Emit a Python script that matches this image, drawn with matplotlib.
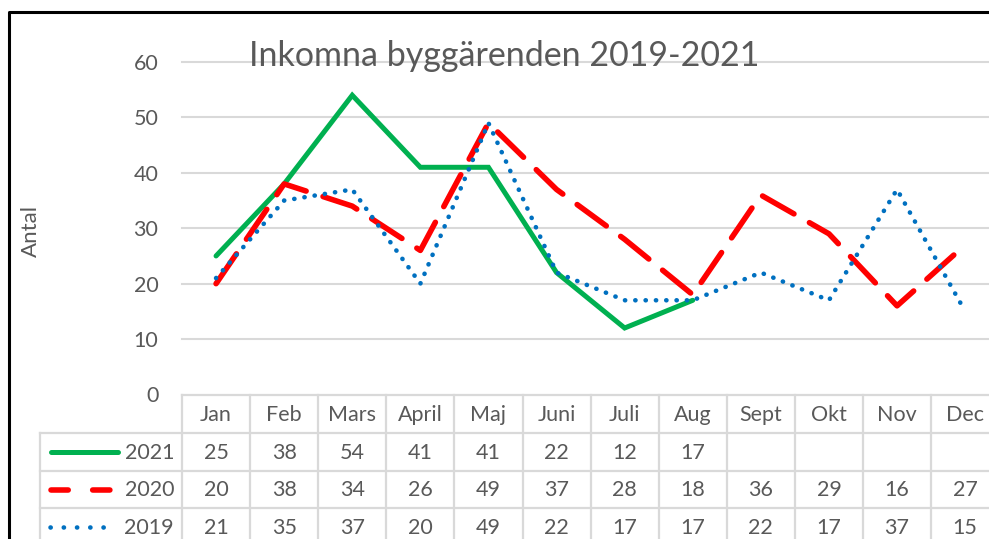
import matplotlib
matplotlib.use("Agg")
import matplotlib.pyplot as plt
from matplotlib.lines import Line2D
from matplotlib import transforms

plt.rcParams['font.family'] = ['Lato', 'DejaVu Sans']

months = ["Jan", "Feb", "Mars", "April", "Maj", "Juni", "Juli", "Aug", "Sept", "Okt", "Nov", "Dec"]
y2021 = [25, 38, 54, 41, 41, 22, 12, 17]
y2020 = [20, 38, 34, 26, 49, 37, 28, 18, 36, 29, 16, 27]
y2019 = [21, 35, 37, 20, 49, 22, 17, 17, 22, 17, 37, 15]
series_names = ["2021", "2020", "2019"]
title = "Inkomna byggärenden 2019-2021"
ylabel = "Antal"
yticks = [0, 10, 20, 30, 40, 50, 60]

W, H = 989, 539
fig = plt.figure(figsize=(W / 100, H / 100), dpi=100)

TXT = "#595959"
GRID = "#D9D9D9"
FS = 15.5

def fx(px):
    return px / W

def fy(py):
    return 1 - py / H

# main axes
x_left, x_right = 182, 182 + 12 * 68.1
y_top, y_zero = 62, 394.5
ax = fig.add_axes([fx(x_left), fy(y_zero), fx(x_right - x_left), (y_zero - y_top) / H])
ax.set_xlim(-0.5, 11.5)
ax.set_ylim(0, 60)
for s in ax.spines.values():
    s.set_visible(False)
ax.set_xticks([])
ax.set_yticks(yticks)
ax.tick_params(axis='y', length=0, labelsize=FS, labelcolor=TXT, pad=17)
for t in yticks[1:]:
    ax.axhline(t, color=GRID, lw=1.5, zorder=0, clip_on=False)

c21, c20, c19 = "#00B050", "#FF0000", "#0070C0"
ax.plot(range(len(y2021)), y2021, color=c21, lw=3.6, solid_capstyle='round', solid_joinstyle='miter', zorder=3, clip_on=False)
ax.plot(range(len(y2020)), y2020, color=c20, lw=4.0, linestyle=(0, (6.5, 3.2)), dash_capstyle='round', zorder=3, clip_on=False)
ax.plot(range(len(y2019)), y2019, color=c19, lw=3.3, linestyle=(0, (0.05, 2.2)), dash_capstyle='round', zorder=4, clip_on=False)

fig.text(fx(504), fy(56), title, ha='center', va='center', fontsize=24.5, color=TXT)
fig.text(fx(31), fy(231), ylabel, ha='center', va='center', rotation=90, fontsize=16, color=TXT)

# data table
trans = transforms.blended_transform_factory(ax.transData, fig.transFigure)
row_h = 37.8
hdr_top = 395
rows_y = [hdr_top + row_h * k for k in range(5)]
x_right_data = 12.5

# horizontal lines
fig.add_artist(Line2D([-0.5, x_right_data], [fy(hdr_top)] * 2, transform=trans, color=GRID, lw=1.6))
for k in range(1, 4):
    fig.add_artist(Line2D([fx(40), fx(W + 20)], [fy(rows_y[k])] * 2, transform=fig.transFigure, color=GRID, lw=1.6))
# vertical lines
for i in range(13):
    fig.add_artist(Line2D([i - 0.5, i - 0.5], [fy(hdr_top), fy(H + 5)], transform=trans, color=GRID, lw=1.6))
fig.add_artist(Line2D([fx(40), fx(40)], [fy(rows_y[1]), fy(H + 5)], transform=fig.transFigure, color=GRID, lw=1.6))

for i, m in enumerate(months):
    fig.text(i, fy(hdr_top + row_h / 2 + 1), m, transform=trans, ha='center', va='center', fontsize=FS, color=TXT)

tab = [y2021, y2020, y2019]
for r, vals in enumerate(tab):
    yc = fy(rows_y[r + 1] + row_h / 2 + 1)
    for i, v in enumerate(vals):
        fig.text(i, yc, str(v), transform=trans, ha='center', va='center', fontsize=FS, color=TXT)
    fig.text(fx(174), yc, series_names[r], ha='right', va='center', fontsize=FS, color=TXT)

# legend keys
lk_y = [fy(rows_y[k] + row_h / 2) for k in range(1, 4)]
fig.add_artist(Line2D([fx(51), fx(118)], [lk_y[0]] * 2, transform=fig.transFigure, color=c21, lw=3.6, solid_capstyle='round'))
fig.add_artist(Line2D([fx(51), fx(110.5)], [lk_y[1]] * 2, transform=fig.transFigure, color=c20, lw=4.0, linestyle=(0, (3.1, 4.4)), dash_capstyle='round'))
fig.add_artist(Line2D([fx(50), fx(116)], [lk_y[2]] * 2, transform=fig.transFigure, color=c19, lw=3.3, linestyle=(0, (0.05, 2.84)), dash_capstyle='round'))

# outer frame (left and top, chart is cropped on the right/bottom)
fig.add_artist(Line2D([fx(9), fx(9), fx(W + 5)], [fy(H + 5), fy(12), fy(12)], transform=fig.transFigure, color="black", lw=2.2))

fig.savefig("out.png", dpi=100)
